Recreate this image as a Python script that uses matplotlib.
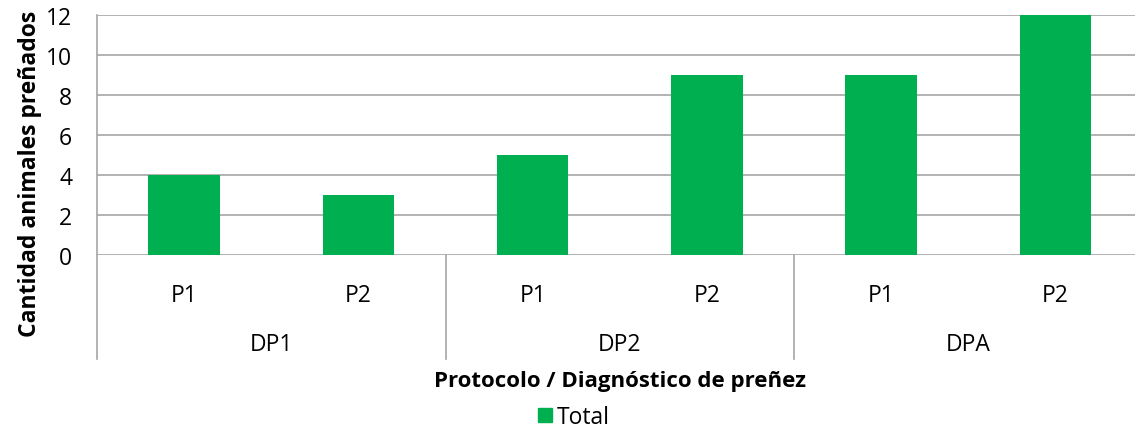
import matplotlib

matplotlib.use("Agg")
import matplotlib.pyplot as plt  # noqa: E402
import matplotlib.transforms as mtransforms  # noqa: E402
from matplotlib.patches import Patch  # noqa: E402

groups = ["DP1", "DP2", "DPA"]
protocols = ["P1", "P2"]
totals = [4, 3, 5, 9, 9, 12]

GREEN = "#00B050"
GRID = "#A6A6A6"
W, H = 1135, 431

plt.rcParams["font.family"] = ["Open Sans", "DejaVu Sans"]

fig = plt.figure(figsize=(W / 100, H / 100), dpi=100)
x0, x1 = 97, 1142.5
y0, y1 = 256, 16
ax = fig.add_axes([x0 / W, (H - y0) / H, (x1 - x0) / W, (y0 - y1) / H])

n = len(totals)
pos = [i + 0.5 for i in range(n)]
ax.bar(pos, totals, width=0.41, color=GREEN, zorder=2)
ax.set_xlim(0, n)
ax.set_ylim(0, 12)
ax.set_yticks(range(0, 13, 2))
ax.yaxis.grid(True, color=GRID, lw=1.2, zorder=0)
for s in ax.spines.values():
    s.set_visible(False)
ax.tick_params(axis="y", length=0, labelsize=16.5, pad=18)
ax.tick_params(axis="x", length=0, labelsize=16.5, pad=20)
ax.set_xticks(pos)
ax.set_xticklabels(protocols * len(groups))

# category separators and left axis running down through the label rows
trans = mtransforms.blended_transform_factory(ax.transData, ax.transAxes)
drop = -(360 - y0) / (y0 - y1)
for k in range(len(groups) + 1):
    top = 1.0 if k == 0 else 0.0
    ax.plot([2 * k, 2 * k], [drop, top], color=GRID, lw=1.2, transform=trans,
            clip_on=False, zorder=1)
for k, g in enumerate(groups):
    ax.text(2 * k + 1, -(345 - y0) / (y0 - y1), g, transform=trans,
            ha="center", va="center", fontsize=16.5)

fig.text(30 / W, 1 - 174 / H, "Cantidad animales preñados", rotation=90,
         ha="center", va="center", fontsize=16.5, fontweight="bold")
fig.text(620 / W, 1 - 382 / H, "Protocolo / Diagnóstico de preñez",
         ha="center", va="center", fontsize=16, fontweight="bold")
fig.legend(handles=[Patch(color=GREEN, label="Total")], loc="center",
           bbox_to_anchor=(574 / W, 1 - 418 / H), frameon=False, fontsize=16.5,
           handlelength=0.6, handleheight=0.6, handletextpad=0.25)

fig.savefig("out.png", dpi=100)
